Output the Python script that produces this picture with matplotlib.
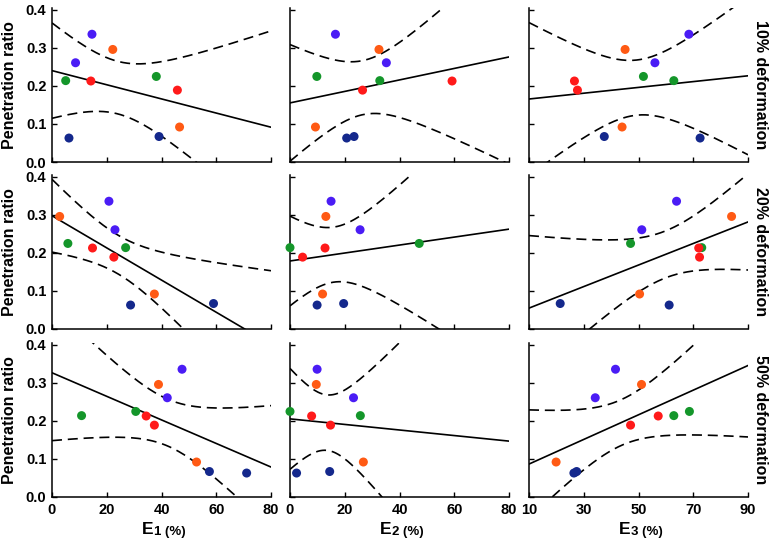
import numpy as np
import matplotlib
matplotlib.use("Agg")
import matplotlib.pyplot as plt

plt.rcParams['font.family'] = ['Liberation Sans', 'DejaVu Sans']
plt.rcParams['font.weight'] = 'bold'

# penetration ratio of the 10 samples (same for every deformation level)
ratio = [0.336, 0.261, 0.296, 0.092, 0.225, 0.214, 0.213, 0.189, 0.063, 0.067]
colors = ['#4a1cf5', '#4a1cf5', '#ff5a14', '#ff5a14', '#14962a', '#14962a',
          '#ff1a1a', '#ff1a1a', '#14288c', '#14288c']

# E1, E2, E3 (%) for each deformation level
e1_10 = [14.6, 8.6, 22.2, 46.6, 38.1, 5.0, 14.2, 45.8, 6.2, 39.1]
e2_10 = [16.6, 35.2, 32.5, 9.3, 9.8, 32.8, 59.2, 26.5, 20.7, 23.4]
e3_10 = [68.4, 56.0, 45.1, 44.0, 51.8, 62.9, 26.6, 27.7, 72.5, 37.5]

e1_20 = [20.8, 23.0, 2.8, 37.4, 5.8, 26.9, 14.8, 22.6, 28.7, 59.0]
e2_20 = [15.0, 25.6, 13.1, 11.9, 47.2, 0.0, 12.8, 4.6, 9.9, 19.6]
e3_20 = [63.9, 51.2, 84.0, 50.4, 47.1, 73.1, 72.0, 72.3, 61.2, 21.4]

e1_50 = [47.5, 42.1, 38.9, 52.8, 30.6, 10.8, 34.4, 37.4, 71.1, 57.5]
e2_50 = [9.9, 23.2, 9.6, 26.8, 0.0, 25.7, 7.9, 14.8, 2.4, 14.5]
e3_50 = [41.6, 34.2, 51.1, 19.9, 68.6, 62.9, 57.2, 47.1, 26.4, 27.4]

rows = [[e1_10, e2_10, e3_10], [e1_20, e2_20, e3_20], [e1_50, e2_50, e3_50]]
row_labels = ['10% deformation', '20% deformation', '50% deformation']
col_sub = ['1', '2', '3']
xlims = [(0, 80), (0, 80), (10, 90)]
xticks = [[0, 20, 40, 60, 80], [0, 20, 40, 60, 80], [10, 30, 50, 70, 90]]

T95 = 2.306  # t(0.975, df=8)

W, H = 774, 544
fig = plt.figure(figsize=(W / 100.0, H / 100.0), dpi=100)

lefts = [52, 290, 529]
bottoms = [162, 329, 497]
aw, ah = 219, 154

y = np.array(ratio)
for r in range(3):
    for c in range(3):
        ax = fig.add_axes([lefts[c] / W, (H - bottoms[r]) / H, aw / W, ah / H])
        x = np.array(rows[r][c])

        # least squares fit + 95% confidence band
        n = len(x)
        xm = x.mean()
        sxx = ((x - xm) ** 2).sum()
        b = ((x - xm) * (y - y.mean())).sum() / sxx
        a = y.mean() - b * xm
        res = y - (a + b * x)
        s = np.sqrt((res ** 2).sum() / (n - 2))
        xx = np.linspace(xlims[c][0], xlims[c][1], 300)
        yy = a + b * xx
        hw = T95 * s * np.sqrt(1.0 / n + (xx - xm) ** 2 / sxx)

        ax.plot(xx, yy, color='black', lw=1.2, zorder=2)
        ax.plot(xx, yy + hw, color='black', lw=1.2, ls=(0, (6, 3.5)), zorder=2)
        ax.plot(xx, yy - hw, color='black', lw=1.2, ls=(0, (6, 3.5)), zorder=2)
        ax.scatter(x, y, s=42, c=colors, edgecolors='none', zorder=3, clip_on=False)

        ax.set_xlim(xlims[c])
        ax.set_ylim(0, 0.405)
        ax.set_xticks(xticks[c])
        ax.set_yticks([0.0, 0.1, 0.2, 0.3, 0.4])
        ax.set_yticklabels(['0.0', '0.1', '0.2', '0.3', '0.4'])
        for sp in ['top', 'right']:
            ax.spines[sp].set_visible(False)
        for sp in ['left', 'bottom']:
            ax.spines[sp].set_linewidth(1.1)
        ax.tick_params(direction='in', length=3.5, width=1.0, labelsize=10.5, pad=4,
                       labelleft=(c == 0), labelbottom=(r == 2))
        for lbl in ax.get_xticklabels() + ax.get_yticklabels():
            lbl.set_fontweight('bold')

        if c == 0:
            ax.set_ylabel('Penetration ratio', fontsize=11.5, fontweight='bold', labelpad=6)
        if c == 2:
            ax.text(1.0 + 12.0 / aw, 0.5, row_labels[r], transform=ax.transAxes,
                    rotation=-90, ha='center', va='center', fontsize=11.5, fontweight='bold')
        if r == 2:
            ax.annotate('E', xy=(0.5, 0), xycoords='axes fraction', xytext=(-6, -27),
                        textcoords='offset points', ha='right', va='baseline',
                        fontsize=12.5, fontweight='bold')
            ax.annotate(col_sub[c] + ' (%)', xy=(0.5, 0), xycoords='axes fraction',
                        xytext=(-5.5, -27), textcoords='offset points', ha='left',
                        va='baseline', fontsize=9.5, fontweight='bold')

fig.savefig('out.png', dpi=100)
